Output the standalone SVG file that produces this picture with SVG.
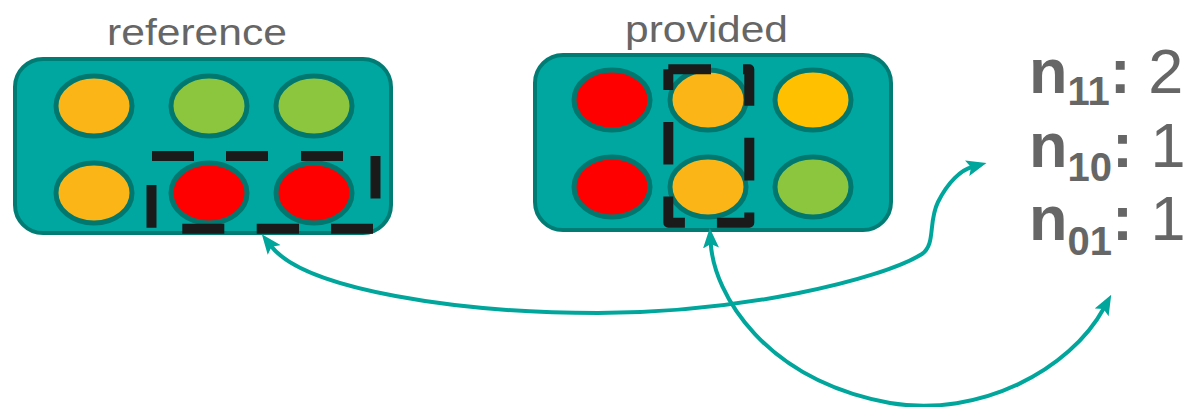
<svg xmlns="http://www.w3.org/2000/svg" width="1188" height="407" viewBox="0 0 1188 407">
<style>
.box{fill:#00A7A0;stroke:#007C75;stroke-width:4}
.el{stroke:#00786F;stroke-width:5}
.o{fill:#FBB516}.y{fill:#FFC000}.g{fill:#8CC63F}.r{fill:#FF0000}
.dash{fill:none;stroke:#1A1A1A;stroke-width:10;stroke-linecap:butt}
.title{font-family:"Liberation Sans",Arial,sans-serif;font-size:37px;fill:#666}
.cnt{font-family:"Liberation Sans",Arial,sans-serif;font-size:63px;fill:#666;font-weight:bold}
.sub{font-size:40px}
.num{font-weight:normal}
.conn{fill:none;stroke:#00A69C;stroke-width:4}
</style>
<defs>
<marker id="ah" viewBox="0 0 20 16" refX="5" refY="8" markerWidth="20" markerHeight="16" orient="auto-start-reverse" markerUnits="userSpaceOnUse">
<path d="M0,0 L20,8 L0,16 L4,8 z" fill="#00A69C"/>
</marker>
</defs>
<g id="reference">
<text class="title" x="107" y="45" textLength="180" lengthAdjust="spacingAndGlyphs">reference</text>
<rect class="box" x="15" y="59" width="376" height="174" rx="28"/>
<ellipse class="el o" cx="94" cy="106" rx="38" ry="30"/>
<ellipse class="el g" cx="209" cy="106" rx="38" ry="30"/>
<ellipse class="el g" cx="314" cy="106" rx="38" ry="30"/>
<ellipse class="el o" cx="94" cy="193" rx="38" ry="30"/>
<ellipse class="el r" cx="209" cy="193" rx="38" ry="30"/>
<ellipse class="el r" cx="314" cy="193" rx="38" ry="30"/>
<path class="dash" d="M152,156H194M226,156H268M301,156H343M375.5,156V198.5M373,228.7H331M299,228.7H256.7M224.3,228.7H182.3M151.5,227.7V185"/>
</g>
<g id="provided">
<text class="title" x="625" y="42" textLength="163" lengthAdjust="spacingAndGlyphs">provided</text>
<rect class="box" x="535" y="55" width="356" height="175" rx="28"/>
<ellipse class="el r" cx="612" cy="100" rx="38" ry="30"/>
<ellipse class="el o" cx="708" cy="100" rx="38" ry="30"/>
<ellipse class="el y" cx="813" cy="100" rx="38" ry="30"/>
<ellipse class="el r" cx="612" cy="187" rx="38" ry="30"/>
<ellipse class="el o" cx="708" cy="187" rx="38" ry="30"/>
<ellipse class="el g" cx="813" cy="187" rx="38" ry="30"/>
<path class="dash" d="M668.3,69.3H749.3V222.7H668.3V69.3" stroke-dasharray="42.7 32" stroke-linejoin="round"/>
</g>
<g id="counts">
<text class="cnt" x="1029" y="93">n<tspan class="sub" dy="12">11</tspan><tspan dy="-12">: </tspan><tspan class="num">2</tspan></text>
<text class="cnt" x="1029" y="167">n<tspan class="sub" dy="14">10</tspan><tspan dy="-14">: </tspan><tspan class="num">1</tspan></text>
<text class="cnt" x="1029" y="240">n<tspan class="sub" dy="15">01</tspan><tspan dy="-15">: </tspan><tspan class="num">1</tspan></text>
</g>
<g id="connectors">
<path class="conn" marker-start="url(#ah)" marker-end="url(#ah)" d="M271,246 C305,290 460,313 598,313 C740,313 880,280 922,254 C936,244 928,222 938,202 C948,182 961,170 972,167"/>
<path class="conn" marker-start="url(#ah)" marker-end="url(#ah)" d="M710.7,243 C714,295 765,380 890,403 C980,418 1070,370 1104,308"/>
</g>
</svg>
